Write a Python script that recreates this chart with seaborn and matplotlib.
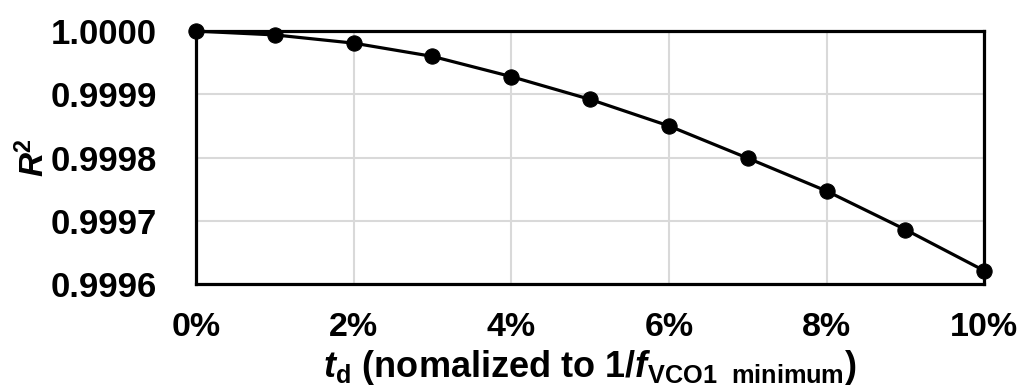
import matplotlib
matplotlib.use("Agg")
import matplotlib.pyplot as plt
from matplotlib.ticker import FuncFormatter
import seaborn as sns
import pandas as pd

# Delay time (fraction of 1/f_VCO1 minimum) and coefficient of determination
td_fraction = [0.00, 0.01, 0.02, 0.03, 0.04, 0.05, 0.06, 0.07, 0.08, 0.09, 0.10]
r_squared = [1.000000, 0.999994, 0.999981, 0.999960, 0.999928, 0.999892,
             0.999850, 0.999799, 0.999747, 0.999686, 0.999621]
x_ticks = [0.00, 0.02, 0.04, 0.06, 0.08, 0.10]
y_ticks = [0.9996, 0.9997, 0.9998, 0.9999, 1.0000]

sns.set_theme(style="white")
plt.rcParams["font.family"] = ["Liberation Sans", "DejaVu Sans"]
plt.rcParams["font.weight"] = "bold"
plt.rcParams["mathtext.fontset"] = "custom"
plt.rcParams["mathtext.rm"] = "Liberation Sans"
plt.rcParams["mathtext.bf"] = "Liberation Sans:bold"
plt.rcParams["mathtext.it"] = "Liberation Sans:bold:italic"
plt.rcParams["mathtext.bfit"] = "Liberation Sans:bold:italic"

df = pd.DataFrame({"td": td_fraction, "r2": r_squared})

fig = plt.figure(figsize=(10.21, 3.89), dpi=100)
ax = fig.add_axes([0.192, 0.270, 0.772, 0.650])

sns.lineplot(data=df, x="td", y="r2", ax=ax, color="black", linewidth=2.3,
             marker="o", markersize=11, markeredgecolor="black",
             markerfacecolor="black", clip_on=False, zorder=5)

ax.set_xlim(0.0, 0.10)
ax.set_ylim(0.9996, 1.0000)
ax.set_xticks(x_ticks)
ax.set_yticks(y_ticks)
ax.xaxis.set_major_formatter(FuncFormatter(lambda v, p: f"{v * 100:.0f}%"))
ax.yaxis.set_major_formatter(FuncFormatter(lambda v, p: f"{v:.4f}"))

ax.grid(True, color="#d9d9d9", linewidth=1.5)
ax.set_axisbelow(True)
for side in ["left", "right", "top", "bottom"]:
    ax.spines[side].set_visible(True)
    ax.spines[side].set_color("black")
    ax.spines[side].set_linewidth(2.3)

ax.tick_params(axis="both", length=0, colors="black")
ax.tick_params(axis="y", labelsize=25, pad=28)
ax.tick_params(axis="x", labelsize=24.5, pad=20)
for lbl in ax.get_xticklabels() + ax.get_yticklabels():
    lbl.set_fontweight("bold")

ax.set_xlabel(r"$\mathbfit{t}_\mathrm{d}$ (nomalized to 1/$\mathbfit{f}_\mathbf{VCO1\ \ minimum}$)",
              fontsize=26, fontweight="bold", color="black", labelpad=4)
ax.set_ylabel(r"$\mathbfit{R}^\mathrm{2}$", fontsize=24, fontweight="bold",
              color="black", labelpad=0)

fig.savefig("out.png", dpi=100)
